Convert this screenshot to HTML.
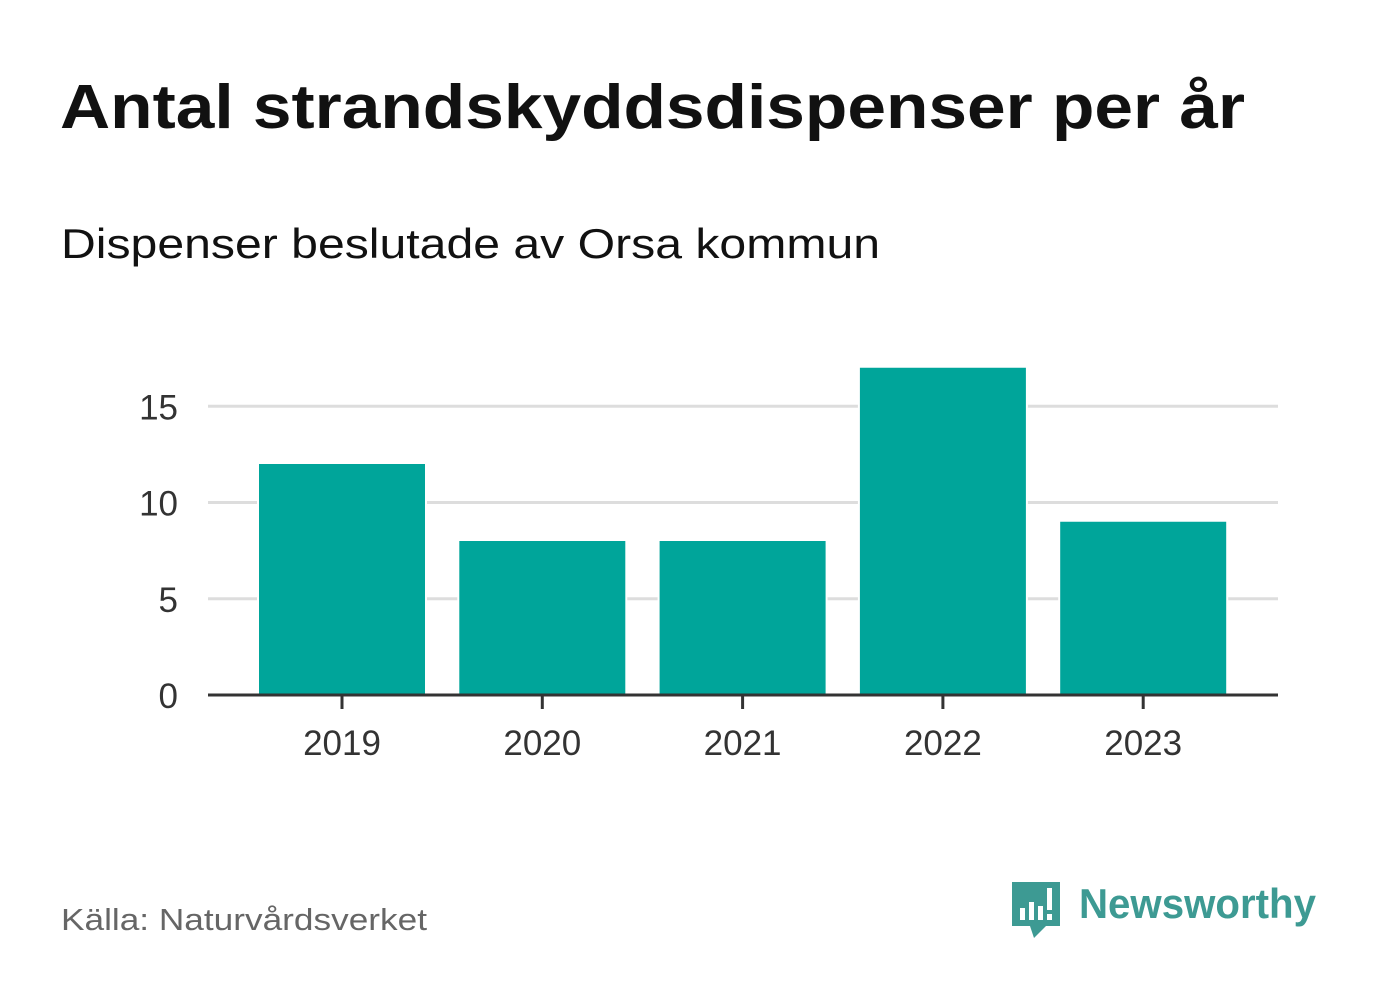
<!DOCTYPE html>
<html><head><meta charset="utf-8"><style>
body{margin:0;background:#fff;width:1382px;height:999px;overflow:hidden;font-family:"Liberation Sans",sans-serif}
</style></head><body>
<svg width="1382" height="999" viewBox="0 0 1382 999">
<rect width="1382" height="999" fill="#fff"/>
<text x="60" y="128" font-size="62" font-weight="bold" fill="#111" textLength="1185" lengthAdjust="spacingAndGlyphs">Antal strandskyddsdispenser per år</text>
<text x="61" y="258" font-size="42" fill="#111" textLength="819" lengthAdjust="spacingAndGlyphs">Dispenser beslutade av Orsa kommun</text>
<g id="grid"></g>
<g id="bars"></g>
<g id="axis"></g>
<text x="61" y="930" font-size="31" fill="#666" textLength="366" lengthAdjust="spacingAndGlyphs">Källa: Naturvårdsverket</text>
<g>
<path d="M1012 882 h48 v44 h-14 l-12 12 l-4 -12 h-18 z" fill="#3d9a93"/>
<rect x="1020" y="908" width="5" height="12" fill="#fff"/>
<rect x="1029" y="902" width="5" height="18" fill="#fff"/>
<rect x="1038" y="906" width="5" height="14" fill="#fff"/>
<rect x="1047" y="888" width="5" height="22" fill="#fff"/>
<rect x="1047" y="914" width="5" height="6" fill="#fff"/>
<text x="1079" y="918" font-size="42" font-weight="bold" fill="#3d9a93" textLength="237" lengthAdjust="spacingAndGlyphs">Newsworthy</text>
</g>
</svg>
<script>
const categories=["2019","2020","2021","2022","2023"];
const values=[12,8,8,17,9];
const yTicks=[0,5,10,15];
const NS="http://www.w3.org/2000/svg";
const x0=208,x1=1278,yBase=695,pxPerUnit=19.25;
const step=200.3,firstCenter=342;
const bw=166;
function y(v){return yBase-v*pxPerUnit;}
function mk(t,a,p){const e=document.createElementNS(NS,t);for(const k in a)e.setAttribute(k,a[k]);p.appendChild(e);return e;}
const grid=document.getElementById('grid'),bars=document.getElementById('bars'),axis=document.getElementById('axis');
yTicks.forEach(t=>{
 if(t>0){const l=mk('line',{x1:x0,x2:x1,y1:y(t),y2:y(t),stroke:'#dddddd','stroke-width':3},grid);
 
 }
 const tx=mk('text',{x:178,y:y(t)+13,'font-size':35,fill:'#333','text-anchor':'end'},axis);
 tx.textContent=t;
 
 
});
categories.forEach((c,i)=>{
 const cx=firstCenter+step*i;
 const r=mk('rect',{x:cx-bw/2,y:y(values[i]),width:bw,height:yBase-y(values[i]),fill:'#00a59a',stroke:'#fff','stroke-width':4,'paint-order':'stroke'},bars);
 
 
 mk('line',{x1:cx,x2:cx,y1:yBase,y2:709,stroke:'#333','stroke-width':3},axis);
 const t=mk('text',{x:cx,y:755,'font-size':35,fill:'#333','text-anchor':'middle'},axis);
 t.textContent=c;
 
 
});
const ax=mk('line',{x1:x0,x2:x1,y1:yBase,y2:yBase,stroke:'#333','stroke-width':3},axis);


</script>
</body></html>
